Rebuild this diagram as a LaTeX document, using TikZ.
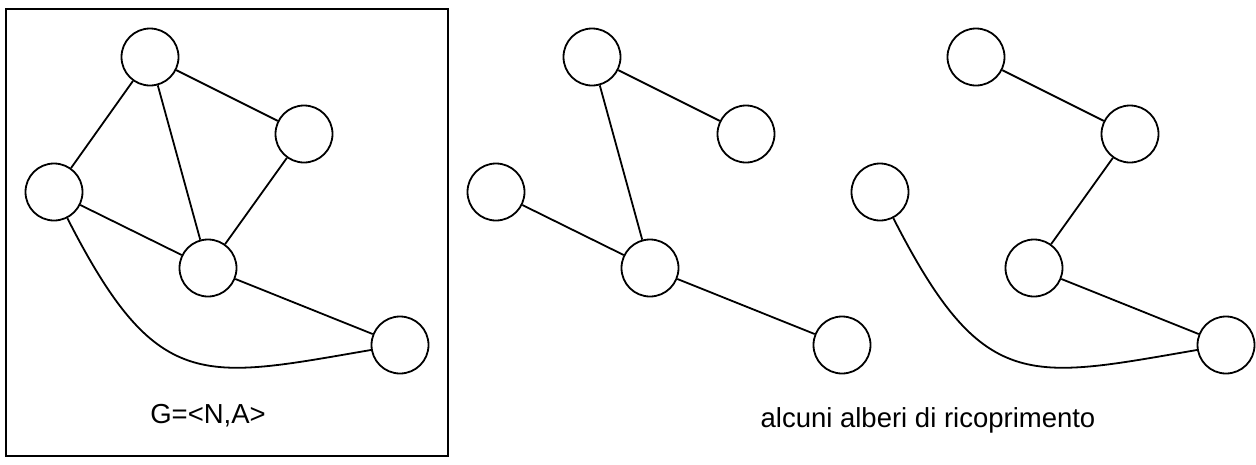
\documentclass[tikz,border=0pt]{standalone}
\usepackage{fontspec}
\setmainfont{Liberation Sans}
\usetikzlibrary{positioning}
\tikzset{
  vert/.style={circle, draw, line width=1.8pt, minimum size=57pt, inner sep=0pt},
  edge/.style={line width=1.8pt},
  lbl/.style={font=\fontsize{27.5}{32}\selectfont, anchor=base},
  frame/.style={draw, line width=1.4pt}
}

\begin{document}
\begin{tikzpicture}[x=1pt, y=-1pt]
\useasboundingbox (0,0) rectangle (1256,464);
% il grafo
\draw[frame] (6,9) rectangle (448,456);
\foreach \n/\x/\y in {a/150/57, b/304/134, c/54/192, d/208/268, e/400/345}
  \node[vert] (g\n) at (\x,\y) {};
\draw[edge] (ga) -- (gc) (ga) -- (gb) (ga) -- (gd) (gb) -- (gd) (gc) -- (gd) (gd) -- (ge);
\draw[edge] (gc) .. controls +(103,202) and +(-198,34) .. (ge);
\node[lbl] (glbl) at (208,423) {G=<N,A>};
% primo albero
\begin{scope}[xshift=442pt]
\foreach \n/\x/\y in {a/150/57, b/304/134, c/54/192, d/208/268, e/400/345}
  \node[vert] (s\n) at (\x,\y) {};
\draw[edge] (sa) -- (sb) (sa) -- (sd) (sc) -- (sd) (sd) -- (se);
\end{scope}
% secondo albero
\begin{scope}[xshift=826pt]
\foreach \n/\x/\y in {a/150/57, b/304/134, c/54/192, d/208/268, e/400/345}
  \node[vert] (t\n) at (\x,\y) {};
\draw[edge] (ta) -- (tb) (tb) -- (td) (td) -- (te);
\draw[edge] (tc) .. controls +(103,202) and +(-198,34) .. (te);
\end{scope}
\node[lbl] (tlbl) at (928,427) {alcuni alberi di ricoprimento};
\end{tikzpicture}
\end{document}
